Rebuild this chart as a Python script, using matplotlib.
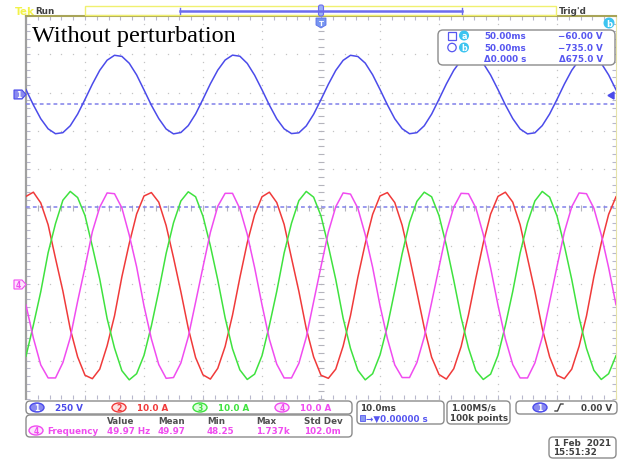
import numpy as np
import matplotlib.pyplot as plt
from matplotlib.patches import FancyBboxPatch, Ellipse, Circle, Polygon

# captura do osciloscopio: 10 ms/div, trigger no centro da tela
t = np.arange(-50, 50.01, 1.25)  # ms

# canal 1 - tensao [V], 250 V/div
ch1_v = [32, -68, -158, -224, -256, -249, -204, -128, -32, 68, 158, 224, 256, 249, 204, 128,
         30, -70, -157, -225, -257, -248, -203, -127, -30, 70, 159, 225, 257, 250, 203, 126,
         31, -69, -159, -224, -255, -250, -205, -129, -33, 67, 157, 223, 256, 248, 205, 129,
         33, -67, -158, -223, -256, -249, -204, -128, -31, 69, 158, 224, 255, 249, 204, 127,
         32, -68, -157, -225, -257, -250, -203, -127, -32, 68, 158, 225, 256, 250, 204, 128,
         31]
# canais 2, 3, 4 - correntes [A], 10 A/div
ch2_a = [23.3, 24.4, 21.6, 15.9, 7.1, -1.4, -11.3, -18.6, -23.4, -24.3, -21.8, -15.7, -7.9, 2.3, 11.0, 18.7,
         23.4, 24.3, 21.8, 15.7, 7.3, -1.6, -11.1, -18.8, -23.3, -24.4, -21.6, -15.9, -7.7, 2.1, 11.2, 18.5,
         23.2, 24.4, 21.7, 16.0, 7.2, -1.5, -11.2, -18.6, -23.4, -24.2, -21.8, -15.8, -7.8, 2.2, 11.0, 18.6,
         23.4, 24.3, 21.7, 15.8, 7.4, -1.7, -11.0, -18.7, -23.2, -24.4, -21.7, -15.9, -7.6, 2.0, 11.1, 18.7,
         23.3, 24.4, 21.8, 15.9, 7.2, -1.5, -11.2, -18.6, -23.4, -24.3, -21.8, -15.8, -7.9, 2.3, 11.1, 18.6,
         23.2]
ch3_a = [-18.4, -10.3, -1.6, 8.6, 16.2, 22.3, 24.6, 23.0, 18.3, 10.2, 1.7, -8.6, -16.3, -22.2, -24.6, -23.0,
         -18.2, -10.5, -1.4, 8.4, 16.4, 22.1, 24.5, 23.2, 18.1, 10.4, 1.5, -8.4, -16.5, -22.0, -24.5, -23.1,
         -18.3, -10.4, -1.5, 8.5, 16.3, 22.2, 24.6, 23.1, 18.2, 10.3, 1.6, -8.5, -16.4, -22.1, -24.6, -23.0,
         -18.1, -10.6, -1.3, 8.3, 16.5, 22.0, 24.4, 23.2, 18.3, 10.5, 1.4, -8.3, -16.3, -22.2, -24.5, -23.1,
         -18.2, -10.4, -1.5, 8.5, 16.4, 22.1, 24.6, 23.1, 18.2, 10.4, 1.6, -8.4, -16.4, -22.1, -24.5, -23.0,
         -18.3]
ch4_a = [-5.1, -13.7, -20.7, -24.1, -24.1, -20.1, -13.6, -4.1, 4.8, 14.1, 20.5, 24.2, 24.0, 20.3, 13.2, 4.9,
         -5.3, -13.9, -20.6, -24.2, -24.0, -20.2, -13.4, -4.3, 4.9, 13.9, 20.7, 24.1, 24.1, 20.1, 13.4, 4.7,
         -5.0, -14.0, -20.5, -24.1, -24.1, -20.3, -13.5, -4.2, 5.0, 14.0, 20.6, 24.2, 23.9, 20.2, 13.3, 4.8,
         -5.2, -13.8, -20.7, -24.0, -24.0, -20.1, -13.4, -4.4, 4.8, 13.9, 20.5, 24.1, 24.0, 20.3, 13.4, 4.6,
         -5.1, -13.9, -20.6, -24.1, -24.1, -20.2, -13.5, -4.3, 5.0, 14.0, 20.6, 24.2, 24.0, 20.2, 13.3, 4.7,
         -5.0]

cursor_v = [-60.0, -735.0]   # cursores horizontais a e b
v_div, i_div = 250, 10
ch1_pos, ch4_pos = 2.95, -2.04   # posicao do terra em divisoes a partir do centro

cursor_rows = [('50.00ms', '\u221260.00 V'), ('50.00ms', '\u2212735.0 V'), ('\u03940.000 s', '\u0394675.0 V')]
scale_labels = ['250 V', '10.0 A', '10.0 A', '10.0 A']
meas_heads = ['Value', 'Mean', 'Min', 'Max', 'Std Dev']
meas_vals = ['49.97 Hz', '49.97', '48.25', '1.737k', '102.0m']

BLUE, RED, GREEN, MAG = '#4b4bea', '#f03a3a', '#3fe23f', '#f04cf0'
TXT_BLUE = '#5656f0'
CYAN = '#3cc4f0'
W, H = 621, 460

fig = plt.figure(figsize=(W / 100, H / 100), dpi=100)
rect = [26 / W, 1 - 400 / H, 590 / W, 383 / H]

# graticula (em divisoes)
grat = fig.add_axes(rect, zorder=0)
grat.set_xlim(0, 10)
grat.set_ylim(0, 10)
minor = np.arange(0, 10.01, 0.2)
for k in range(1, 10):
    if k == 5:
        continue
    grat.plot(np.full(minor.size, k), minor, ls='none', marker='s', ms=0.9, color='#c4c4c4', mew=0)
    grat.plot(minor, np.full(minor.size, k), ls='none', marker='s', ms=0.9, color='#c4c4c4', mew=0)
grat.plot(np.full(minor.size, 5), minor, ls='none', marker='_', ms=4, color='#b4b4bc', mew=0.8)
grat.plot(minor, np.full(minor.size, 5), ls='none', marker='|', ms=4, color='#b4b4bc', mew=0.8)
grat.set_xticks(np.arange(0, 10.01, 0.2), minor=True)
grat.set_yticks(np.arange(0, 10.01, 0.2), minor=True)
grat.set_xticks([])
grat.set_yticks([])
grat.tick_params(which='minor', direction='in', length=3, width=0.8, color='#b8b8cc',
                 top=True, right=True, labelbottom=False, labelleft=False)
grat.spines['left'].set_color('#a0a0a0')
grat.spines['left'].set_linewidth(1.6)
grat.spines['top'].set_color('#a8a458')
grat.spines['top'].set_linewidth(1.5)
grat.spines['right'].set_color('#e6e2a8')
grat.spines['bottom'].set_visible(False)

# tensao
ax_v = fig.add_axes(rect, facecolor='none', zorder=1)
ax_v.set_xlim(-50, 50)
ax_v.set_ylim((-5 - ch1_pos) * v_div, (5 - ch1_pos) * v_div)
ax_v.axis('off')
for cv in cursor_v:
    ax_v.axhline(cv, color='#8080ea', lw=1.1, ls=(0, (2.5, 2)))
ax_v.plot(t, ch1_v, color=BLUE, lw=1.1)

# correntes
ax_i = fig.add_axes(rect, facecolor='none', zorder=2)
ax_i.set_xlim(-50, 50)
ax_i.set_ylim((-5 - ch4_pos) * i_div, (5 - ch4_pos) * i_div)
ax_i.axis('off')
ax_i.plot(t, ch2_a, color=RED, lw=1.1)
ax_i.plot(t, ch3_a, color=GREEN, lw=1.1)
ax_i.plot(t, ch4_a, color=MAG, lw=1.1)

# sobreposicao em pixels, por cima de tudo
ov = fig.add_axes([0, 0, 1, 1], facecolor='none', zorder=10)
ov.set_xlim(0, W)
ov.set_ylim(H, 0)
ov.axis('off')

FS = 6.3


def box(x0, y0, x1, y1, r=4):
    ov.add_patch(FancyBboxPatch((x0, y0), x1 - x0, y1 - y0, boxstyle=f'round,pad=0,rounding_size={r}',
                                fc='white', ec='#8c8c8c', lw=1, zorder=3))


def badge(x, y, s, col, fill, tc):
    ov.add_patch(Ellipse((x, y), 14, 9, fc=fill, ec=col, lw=1, zorder=4))
    ov.text(x, y + 0.5, s, color=tc, ha='center', va='center', fontsize=5.5, fontweight='bold', zorder=5)


def txt(x, y, s, col='#404040', ha='left'):
    ov.text(x, y, s, color=col, ha=ha, va='center', fontsize=FS, fontweight='bold', zorder=5)


# barra superior
ov.text(15, 12, 'Tek', color='#f2f24a', fontsize=7.5, fontweight='bold', va='center')
txt(35, 12, 'Run')
ov.add_patch(plt.Rectangle((85, 7), 471, 9, fc='none', ec='#f0f070', lw=1))
ov.plot([180, 462], [12, 12], color='#6c6cee', lw=1.8)
ov.plot([180, 180], [9, 15], color='#6c6cee', lw=1)
ov.plot([462, 462], [9, 15], color='#6c6cee', lw=1)
ov.add_patch(FancyBboxPatch((318.5, 6), 5, 11, boxstyle='round,pad=0,rounding_size=2', fc='#9ab0f4', ec='#6c6cee', lw=0.8))
txt(559, 11, "Trig'd")
ov.add_patch(Polygon([[316, 19], [326, 19], [326, 26], [321, 29], [316, 26]], closed=True, fc='#7896f0', ec='#5a6ee8', lw=0.6))
ov.text(321, 23.5, 'T', color='white', ha='center', va='center', fontsize=5, fontweight='bold')

# titulo
ov.text(32, 42, 'Without perturbation', family='Liberation Serif', fontsize=17.5, va='baseline', color='black')

# marcadores dos canais
ov.add_patch(Polygon([[14, 91], [22, 91], [26, 95.5], [22, 100], [14, 100]], closed=True, fc='#8a8af0', ec=BLUE, lw=0.8))
ov.text(18.5, 95.5, '1', color='white', ha='center', va='center', fontsize=5.5, fontweight='bold')
ov.add_patch(Polygon([[14, 281], [22, 281], [26, 285.5], [22, 290], [14, 290]], closed=True, fc='#fde6fd', ec=MAG, lw=0.8))
ov.text(18.5, 285.5, '4', color=MAG, ha='center', va='center', fontsize=5.5, fontweight='bold')
ov.add_patch(Polygon([[608, 96.5], [614, 93], [614, 100]], closed=True, fc=BLUE, ec=BLUE))
ov.add_patch(Circle((609, 24), 4.8, fc=CYAN, ec=CYAN))
ov.text(609, 24.5, 'b', color='white', ha='center', va='center', fontsize=6, fontweight='bold')

# leitura dos cursores (caixa opaca por cima do traco)
box(438, 31, 615, 66, r=5)
ov.add_patch(plt.Rectangle((448, 32.5), 8, 8, fc='none', ec=TXT_BLUE, lw=0.9, zorder=4))
ov.add_patch(Circle((452, 48.5), 4.2, fc='none', ec=TXT_BLUE, lw=0.9, zorder=4))
for yy, s in [(36.5, 'a'), (48.5, 'b')]:
    ov.add_patch(Circle((464, yy), 4.3, fc=CYAN, ec=CYAN, zorder=4))
    ov.text(464, yy + 0.3, s, color='white', ha='center', va='center', fontsize=5.8, fontweight='bold', zorder=5)
for (left, right), yy in zip(cursor_rows, [36.5, 48.5, 60]):
    txt(484, yy, left, col=TXT_BLUE)
    txt(603, yy, right, col=TXT_BLUE, ha='right')

# escalas dos canais
box(26, 402, 352, 415)
chan_x = [37, 119, 200, 282]
chan_col = [BLUE, RED, GREEN, MAG]
chan_fill = ['#8a8af0', '#fde2e2', '#e2fde2', '#fde6fd']
for i, (cx, col, fill, lab) in enumerate(zip(chan_x, chan_col, chan_fill, scale_labels)):
    badge(cx, 408.5, str(i + 1), col, fill, 'white' if i == 0 else col)
    txt(cx + 18, 408.5, lab, col=col)

# medicoes
box(26, 416, 352, 438)
head_x = [107, 158, 207, 256, 304]
for hx, hs, vs in zip(head_x, meas_heads, meas_vals):
    txt(hx, 421.5, hs, col='#505050')
    txt(hx, 431.5, vs, col=MAG)
badge(36, 431.5, '4', MAG, '#fde6fd', MAG)
txt(47, 431.5, 'Frequency', col=MAG)

# base de tempo
box(357, 402, 444, 425)
txt(360, 408.5, '10.0ms')
ov.add_patch(plt.Rectangle((360, 415.5), 5, 6, fc='#8a9af0', ec=TXT_BLUE, lw=0.6, zorder=4))
txt(366, 419, '\u2192\u25bc0.00000 s', col=TXT_BLUE)
box(447, 402, 510, 425)
txt(451, 408.5, '1.00MS/s')
txt(450, 419, '100k points')

# trigger
box(516, 402, 617, 415)
badge(540, 408.5, '1', BLUE, '#8a8af0', 'white')
ov.plot([555, 557.5, 560.5, 563], [412, 412, 405, 405], color='#404040', lw=1, zorder=5)
txt(612, 408.5, '0.00 V', ha='right')

# data
box(549, 438, 616, 459)
txt(554, 443.5, '1 Feb  2021')
txt(553, 453, '15:51:32')

plt.savefig('out.png', dpi=100)
